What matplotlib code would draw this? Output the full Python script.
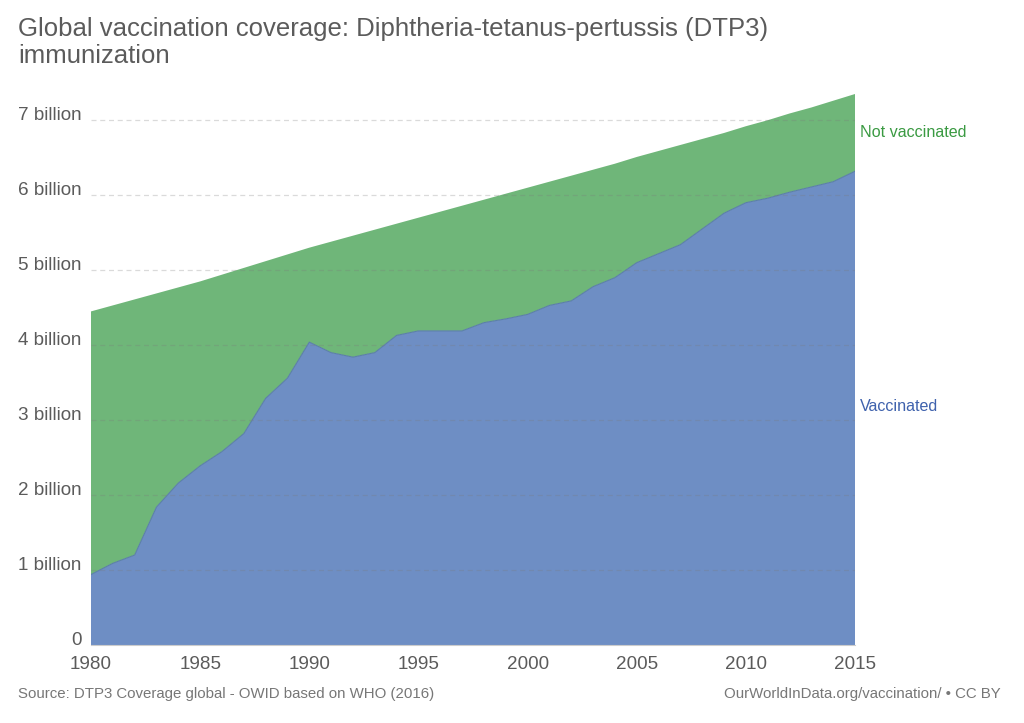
import matplotlib.pyplot as plt
import numpy as np

plt.rcParams['font.family'] = ['Liberation Sans', 'DejaVu Sans']

years = np.arange(1980, 2016)

# vaccinated population (billions)
vaccinated = [0.94, 1.09, 1.20, 1.84, 2.16, 2.39, 2.58, 2.82, 3.29, 3.56,
              4.04, 3.90, 3.84, 3.90, 4.13, 4.19, 4.19, 4.19, 4.30, 4.35,
              4.41, 4.53, 4.59, 4.78, 4.90, 5.10, 5.22, 5.34, 5.55, 5.76,
              5.90, 5.96, 6.04, 6.11, 6.18, 6.32]

# total population (billions)
total = [4.45, 4.53, 4.61, 4.69, 4.77, 4.85, 4.94, 5.03, 5.12, 5.21,
         5.30, 5.38, 5.46, 5.54, 5.62, 5.70, 5.78, 5.86, 5.94, 6.02,
         6.10, 6.18, 6.26, 6.34, 6.42, 6.51, 6.59, 6.67, 6.75, 6.83,
         6.92, 7.00, 7.09, 7.17, 7.26, 7.35]

not_vaccinated = np.array(total) - np.array(vaccinated)

yticks = [0, 1, 2, 3, 4, 5, 6, 7]
ytick_labels = ['0', '1 billion', '2 billion', '3 billion', '4 billion',
                '5 billion', '6 billion', '7 billion']
xticks = [1980, 1985, 1990, 1995, 2000, 2005, 2010, 2015]

title_lines = ['Global vaccination coverage: Diphtheria-tetanus-pertussis (DTP3)',
               'immunization']

blue = '#6e8ec4'
green = '#6fb679'
text_gray = '#5b5b5b'

fig = plt.figure(figsize=(10.24, 7.23), dpi=100)
ax = fig.add_axes([91 / 1024, 1 - 645 / 723, (855 - 91) / 1024, (645 - 94) / 723])

ax.stackplot(years, vaccinated, not_vaccinated, colors=[blue, green],
             edgecolor='none')
ax.plot(years, vaccinated, color='#5b7fa8', lw=0.8)

ax.set_xlim(1980, 2015)
ax.set_ylim(0, 7.35)

# dashed gridlines, faint on white and darker over the fills
for v in yticks[1:]:
    ax.axhline(v, color='#7a7a7a', lw=0.9, ls=(0, (4, 3)), alpha=0.28, zorder=3)

for side in ['top', 'right', 'left']:
    ax.spines[side].set_visible(False)
ax.spines['bottom'].set_color('#cccccc')

ax.set_yticks(yticks)
ax.set_yticklabels(ytick_labels)
ax.set_xticks(xticks)
ax.tick_params(axis='both', length=0, labelsize=13.6, colors=text_gray)
ax.tick_params(axis='y', pad=7)
ax.tick_params(axis='x', pad=8)
for lab in ax.get_yticklabels():
    lab.set_va('baseline')

ax.text(1.007, 0.931, 'Not vaccinated', transform=ax.transAxes, color='#3a9a42',
        fontsize=11.6, va='center', ha='left')
ax.text(1.007, 0.432, 'Vaccinated', transform=ax.transAxes, color='#3f62ad',
        fontsize=11.6, va='center', ha='left')

fig.text(18 / 1024, 1 - 36 / 723, title_lines[0],
         fontsize=18.5, color=text_gray, va='baseline', ha='left')
fig.text(18 / 1024, 1 - 63 / 723, title_lines[1],
         fontsize=18.5, color=text_gray, va='baseline', ha='left')

fig.text(18 / 1024, 1 - 694 / 723, 'Source: DTP3 Coverage global - OWID based on WHO (2016)',
         fontsize=10.8, color='#777777', va='center', ha='left')
fig.text(1001 / 1024, 1 - 694 / 723, 'OurWorldInData.org/vaccination/ • CC BY',
         fontsize=10.8, color='#777777', va='center', ha='right')

fig.savefig('out.png', dpi=100)
